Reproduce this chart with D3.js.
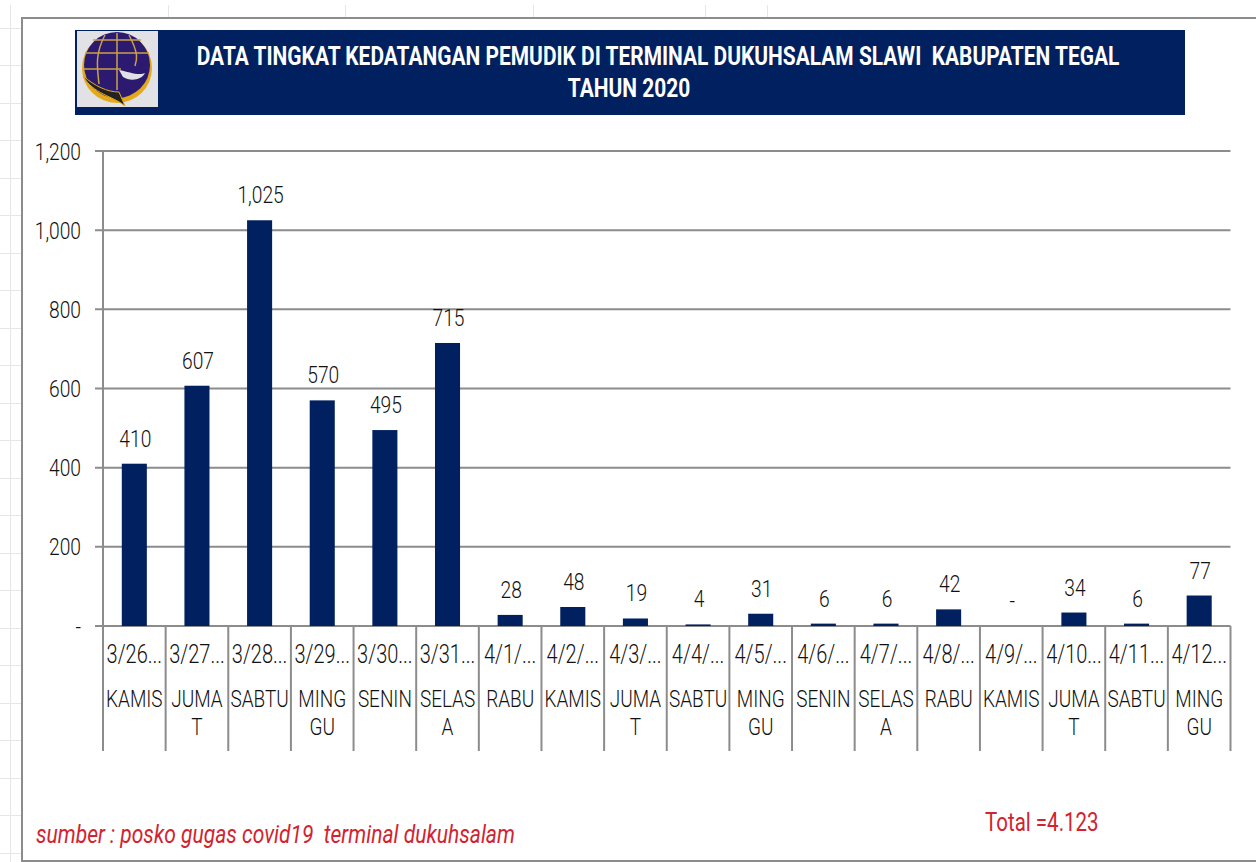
<!DOCTYPE html>
<html>
<head>
<meta charset="utf-8">
<script src="https://cdn.jsdelivr.net/npm/d3@7"></script>
<style>
  html, body { margin: 0; padding: 0; background: #fff; }
  svg { display: block; }
  text { font-family: Roboto, sans-serif; }
</style>
</head>
<body>
<div id="chart"></div>
<script>
const dates = ["3/26...", "3/27...", "3/28...", "3/29...", "3/30...", "3/31...", "4/1/...", "4/2/...", "4/3/...",
  "4/4/...", "4/5/...", "4/6/...", "4/7/...", "4/8/...", "4/9/...", "4/10...", "4/11...", "4/12..."];
const days = [["KAMIS"], ["JUMA", "T"], ["SABTU"], ["MING", "GU"], ["SENIN"], ["SELAS", "A"], ["RABU"], ["KAMIS"], ["JUMA", "T"],
  ["SABTU"], ["MING", "GU"], ["SENIN"], ["SELAS", "A"], ["RABU"], ["KAMIS"], ["JUMA", "T"], ["SABTU"], ["MING", "GU"]];
const values = [410, 607, 1025, 570, 495, 715, 28, 48, 19, 4, 31, 6, 6, 42, 0, 34, 6, 77];
const yTicks = [0, 200, 400, 600, 800, 1000, 1200];
const titleLines = ["DATA TINGKAT KEDATANGAN PEMUDIK DI TERMINAL DUKUHSALAM SLAWI  KABUPATEN TEGAL", "TAHUN 2020"];
const sheetRows = [28, 65, 103, 140, 178, 215, 253, 290, 328, 365, 403, 440, 478, 515, 553, 590, 628, 665, 703, 740, 778, 815, 853];
const sheetCols = [168, 345, 533, 705, 767];

const NAVY = "#002060";
const GREY = "#8c8c8c";
const RED = "#d2232f";
const TEXT = "#111";
const X_SQUEEZE = 0.8;

const svg = d3.select("#chart").append("svg").attr("width", 1256).attr("height", 862);

// spreadsheet cells showing behind the screenshot
const sheet = svg.append("g").attr("stroke", "#e6e6e6").attr("stroke-width", 1);
sheet.selectAll("line.row").data(sheetRows).enter().append("line")
  .attr("x1", 0).attr("x2", 21).attr("y1", d => d + 0.5).attr("y2", d => d + 0.5);
sheet.selectAll("line.col").data(sheetCols).enter().append("line")
  .attr("x1", d => d + 0.5).attr("x2", d => d + 0.5).attr("y1", 5).attr("y2", 17);
sheet.append("line").attr("x1", 10.5).attr("x2", 10.5).attr("y1", 5).attr("y2", 862);

// chart frame
svg.append("path")
  .attr("d", "M1256,18H22V861H1256")
  .attr("fill", "none").attr("stroke", GREY).attr("stroke-width", 2);

const x = d3.scaleBand().domain(d3.range(values.length)).range([103, 1230.5]).paddingInner(0.6).paddingOuter(0.3);
const y = d3.scaleLinear().domain([0, 1200]).range([626, 151]);
const bandW = (1230.5 - 103) / values.length;
const edge = i => 103 + i * bandW;

// horizontally squeezed text, the original is a narrow font
function label(g, px, py, str, size, opts = {}) {
  return g.append("text")
    .attr("transform", `translate(${px},${py}) scale(${opts.sx || X_SQUEEZE},1)`)
    .attr("text-anchor", opts.anchor || "middle")
    .attr("font-size", size)
    .attr("font-weight", opts.weight || 300)
    .attr("font-style", opts.style || "normal")
    .attr("fill", opts.fill || TEXT)
    .style("white-space", "pre")
    .text(str);
}

// banner
svg.append("rect").attr("x", 75).attr("y", 30).attr("width", 1110).attr("height", 85).attr("fill", NAVY);
svg.append("rect").attr("x", 77).attr("y", 31).attr("width", 81).attr("height", 76).attr("fill", "#e2e2e6");

const logo = svg.append("g").attr("transform", "translate(117,66)");
logo.append("circle").attr("r", 35).attr("cx", 0).attr("cy", 2).attr("fill", "#e3a91b");
logo.append("circle").attr("r", 33).attr("cy", -1).attr("fill", "#2b1a70");
logo.append("g").attr("stroke", "#c9a24a").attr("stroke-width", 1.5).attr("fill", "none")
  .selectAll("path")
  .data(["M-32,-13H32", "M-33,3H4", "M-24,-26H24", "M0,-33V24", "M-12,-31C-22,-12-20,0-18,18", "M12,-31C22,-12 20,-6 18,0"])
  .enter().append("path").attr("d", d => d);
logo.append("path")
  .attr("d", "M-34,10C-24,28-4,30 8,40L2,26C-10,26-22,20-34,10Z")
  .attr("fill", "#222").attr("stroke", "#e3a91b");
logo.append("path")
  .attr("d", "M2,4C12,6 22,10 28,7C24,15 12,15 6,11Z")
  .attr("fill", "#e2e2e6");

const title = svg.append("g");
label(title, 658, 65, titleLines[0], 26, { weight: 700, fill: "#fff", sx: 0.805 });
label(title, 629, 97, titleLines[1], 26, { weight: 700, fill: "#fff", sx: 0.805 });

// gridlines, y labels
const grid = svg.append("g");
grid.selectAll("line").data(yTicks).enter().append("line")
  .attr("x1", 95).attr("x2", 1230.5)
  .attr("y1", d => y(d)).attr("y2", d => y(d))
  .attr("stroke", GREY).attr("stroke-width", 2);

const yAxis = svg.append("g");
yTicks.forEach(t => {
  label(yAxis, 81, y(t) + 8.5, t === 0 ? "-" : d3.format(",")(t), 24, { anchor: "end" });
});

// bars
svg.selectAll("rect.bar").data(values).enter().append("rect")
  .attr("class", "bar")
  .attr("x", (d, i) => x(i))
  .attr("y", d => y(d))
  .attr("width", x.bandwidth())
  .attr("height", d => y(0) - y(d))
  .attr("fill", NAVY);

// value labels
const vals = svg.append("g");
values.forEach((v, i) => {
  label(vals, x(i) + x.bandwidth() / 2 + 1, y(v) - 17, v === 0 ? "-" : d3.format(",")(v), 24);
});

// category axis, two levels
const cat = svg.append("g");
d3.range(values.length + 1).forEach(i => {
  cat.append("line")
    .attr("x1", edge(i)).attr("x2", edge(i))
    .attr("y1", i === 0 ? 151 : 626).attr("y2", 751)
    .attr("stroke", GREY).attr("stroke-width", 2);
});
dates.forEach((d, i) => {
  label(cat, edge(i) + bandW / 2, 663, d, 25);
});
days.forEach((lines, i) => {
  lines.forEach((s, k) => {
    label(cat, edge(i) + bandW / 2, 707 + k * 28, s, 24, { sx: 0.79 });
  });
});

// notes
label(svg, 36, 843, "sumber : posko gugas covid19  terminal dukuhsalam", 26, { anchor: "start", style: "italic", fill: RED, weight: 400, sx: 0.81 });
label(svg, 985, 831, "Total =4.123", 25, { anchor: "start", fill: RED, weight: 400, sx: 0.82 });
</script>
</body>
</html>
